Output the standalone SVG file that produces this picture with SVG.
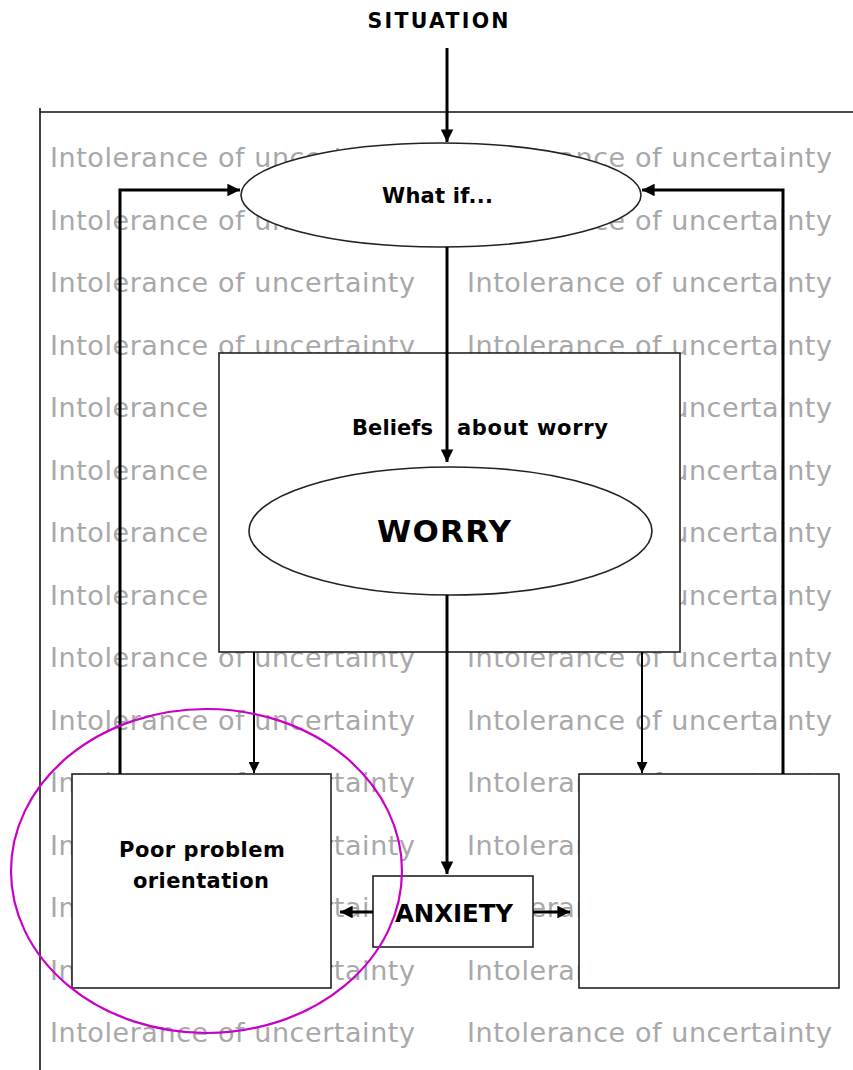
<svg xmlns="http://www.w3.org/2000/svg" width="853" height="1070" viewBox="0 0 853 1070">
  <style>
    .bg { fill: #a8a8aa; font-family: "DejaVu Sans", Verdana, sans-serif; font-size: 27px; }
    .lbl { fill: #000; font-family: "DejaVu Sans", Verdana, sans-serif; font-weight: bold; text-anchor: middle; }
    .shape { fill: #fff; stroke: #222; stroke-width: 1.6; }
    .frame { fill: none; stroke: #111; stroke-width: 1.6; }
    .thick { fill: none; stroke: #000; stroke-width: 3; }
    .thin { fill: none; stroke: #000; stroke-width: 2; }
  </style>
  <defs>
    <marker id="ah" viewBox="0 0 10 10" refX="10" refY="5" markerWidth="4.2" markerHeight="4.2" markerUnits="strokeWidth" orient="auto">
      <path d="M0,0 L10,5 L0,10 Z" fill="#000"/>
    </marker>
    <marker id="ahs" viewBox="0 0 10 10" refX="10" refY="5" markerWidth="5.5" markerHeight="5.5" markerUnits="strokeWidth" orient="auto">
      <path d="M0,0 L10,5 L0,10 Z" fill="#000"/>
    </marker>
  </defs>

  <rect width="853" height="1070" fill="#fff"/>

  <!-- repeated background phrase -->
  <g id="background-text" class="bg">
    <text x="50" y="167" textLength="365">Intolerance of uncertainty</text>
    <text x="467" y="167" textLength="365">Intolerance of uncertainty</text>
    <text x="50" y="229.5" textLength="365">Intolerance of uncertainty</text>
    <text x="467" y="229.5" textLength="365">Intolerance of uncertainty</text>
    <text x="50" y="292" textLength="365">Intolerance of uncertainty</text>
    <text x="467" y="292" textLength="365">Intolerance of uncertainty</text>
    <text x="50" y="354.5" textLength="365">Intolerance of uncertainty</text>
    <text x="467" y="354.5" textLength="365">Intolerance of uncertainty</text>
    <text x="50" y="417" textLength="365">Intolerance of uncertainty</text>
    <text x="467" y="417" textLength="365">Intolerance of uncertainty</text>
    <text x="50" y="479.5" textLength="365">Intolerance of uncertainty</text>
    <text x="467" y="479.5" textLength="365">Intolerance of uncertainty</text>
    <text x="50" y="542" textLength="365">Intolerance of uncertainty</text>
    <text x="467" y="542" textLength="365">Intolerance of uncertainty</text>
    <text x="50" y="604.5" textLength="365">Intolerance of uncertainty</text>
    <text x="467" y="604.5" textLength="365">Intolerance of uncertainty</text>
    <text x="50" y="667" textLength="365">Intolerance of uncertainty</text>
    <text x="467" y="667" textLength="365">Intolerance of uncertainty</text>
    <text x="50" y="729.5" textLength="365">Intolerance of uncertainty</text>
    <text x="467" y="729.5" textLength="365">Intolerance of uncertainty</text>
    <text x="50" y="792" textLength="365">Intolerance of uncertainty</text>
    <text x="467" y="792" textLength="365">Intolerance of uncertainty</text>
    <text x="50" y="854.5" textLength="365">Intolerance of uncertainty</text>
    <text x="467" y="854.5" textLength="365">Intolerance of uncertainty</text>
    <text x="50" y="917" textLength="365">Intolerance of uncertainty</text>
    <text x="467" y="917" textLength="365">Intolerance of uncertainty</text>
    <text x="50" y="979.5" textLength="365">Intolerance of uncertainty</text>
    <text x="467" y="979.5" textLength="365">Intolerance of uncertainty</text>
    <text x="50" y="1042" textLength="365">Intolerance of uncertainty</text>
    <text x="467" y="1042" textLength="365">Intolerance of uncertainty</text>
  </g>

  <!-- frame edges -->
  <g id="frame" class="frame">
    <path d="M40,112 H853"/>
    <path d="M40,108 V1070"/>
  </g>

  <g id="situation">
    <text class="lbl" x="438" y="28" font-size="20.5" textLength="141">SITUATION</text>
  </g>

  <g id="what-if">
    <ellipse class="shape" cx="441" cy="195" rx="200" ry="52"/>
    <text class="lbl" x="437.5" y="203" font-size="21" textLength="111">What if...</text>
  </g>

  <g id="beliefs">
    <rect class="shape" x="219" y="353" width="461" height="299"/>
    <text class="lbl" x="392.5" y="435" font-size="21" textLength="81">Beliefs</text>
    <text class="lbl" x="532.5" y="435" font-size="21" textLength="151">about worry</text>
  </g>

  <g id="worry">
    <ellipse class="shape" cx="450.5" cy="531" rx="201.5" ry="64"/>
    <text class="lbl" x="444" y="542" font-size="31" textLength="134">WORRY</text>
  </g>

  <g id="poor-problem-orientation">
    <rect class="shape" x="72" y="774" width="259" height="214"/>
    <text class="lbl" x="202" y="857" font-size="21" textLength="166">Poor problem</text>
    <text class="lbl" x="201" y="888" font-size="21" textLength="136">orientation</text>
  </g>

  <g id="right-box">
    <rect class="shape" x="579" y="774" width="260" height="214"/>
  </g>

  <g id="anxiety">
    <rect class="shape" x="373" y="876" width="160" height="71"/>
    <text class="lbl" x="454" y="922" font-size="24.5" textLength="118">ANXIETY</text>
  </g>

  <!-- connectors -->
  <g id="connectors">
    <path class="thick" d="M447,48 V142" marker-end="url(#ah)"/>
    <path class="thick" d="M447,247 V462" marker-end="url(#ah)"/>
    <path class="thick" d="M447,595 V874" marker-end="url(#ah)"/>
    <path class="thick" d="M120,774 V190 H240" marker-end="url(#ah)"/>
    <path class="thick" d="M783,774 V190 H642" marker-end="url(#ah)"/>
    <path class="thin" d="M254,652 V773" marker-end="url(#ahs)"/>
    <path class="thin" d="M642,652 V773" marker-end="url(#ahs)"/>
    <path class="thick" d="M373,912 H340" marker-end="url(#ah)"/>
    <path class="thick" d="M533,912 H570" marker-end="url(#ah)"/>
  </g>

  <!-- highlight ring -->
  <g id="highlight">
    <ellipse cx="206.5" cy="871" rx="195.5" ry="162" fill="none" stroke="#c800c8" stroke-width="2.2"/>
  </g>
</svg>
